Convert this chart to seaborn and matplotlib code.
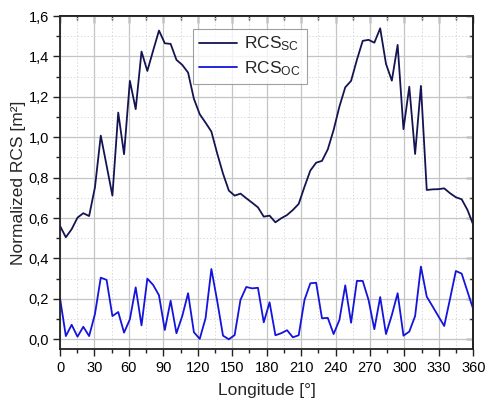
import numpy as np
import pandas as pd
import matplotlib
matplotlib.use("Agg")
import matplotlib.pyplot as plt
from matplotlib.ticker import MultipleLocator, FixedLocator
import seaborn as sns

# ---- data ----
longitude = np.linspace(0, 360, 72)
rcs_sc = [0.561, 0.505, 0.545, 0.602, 0.624, 0.610, 0.752, 1.008, 0.86, 0.711,
          1.122, 0.916, 1.279, 1.139, 1.424, 1.328, 1.429, 1.528, 1.465, 1.462,
          1.383, 1.358, 1.320, 1.190, 1.114, 1.072, 1.028, 0.92, 0.82, 0.736,
          0.711, 0.721, 0.698, 0.676, 0.653, 0.607, 0.612, 0.579, 0.599, 0.615,
          0.640, 0.670, 0.755, 0.835, 0.874, 0.883, 0.940, 1.036, 1.152, 1.247,
          1.279, 1.383, 1.477, 1.482, 1.468, 1.539, 1.363, 1.28, 1.457, 1.04,
          1.25, 0.917, 1.254, 0.739, 0.742, 0.743, 0.747, 0.723, 0.703, 0.693,
          0.64, 0.566]
rcs_oc = [0.203, 0.016, 0.072, 0.013, 0.062, 0.016, 0.125, 0.305, 0.294, 0.115,
          0.135, 0.033, 0.099, 0.257, 0.069, 0.300, 0.269, 0.218, 0.046, 0.191,
          0.030, 0.115, 0.228, 0.035, 0.002, 0.104, 0.348, 0.19, 0.018, 0.0,
          0.021, 0.195, 0.259, 0.252, 0.255, 0.084, 0.183, 0.020, 0.030, 0.045,
          0.010, 0.020, 0.195, 0.277, 0.280, 0.104, 0.106, 0.026, 0.096, 0.267,
          0.082, 0.289, 0.289, 0.195, 0.050, 0.209, 0.026, 0.12, 0.228, 0.018,
          0.038, 0.115, 0.36, 0.211, 0.163, 0.114, 0.066, 0.2, 0.338, 0.325,
          0.236, 0.148]
series_labels = [r"RCS$_{\mathrm{SC}}$", r"RCS$_{\mathrm{OC}}$"]
xticks = [0, 30, 60, 90, 120, 150, 180, 210, 240, 270, 300, 330, 360]
yticks = [0.0, 0.2, 0.4, 0.6, 0.8, 1.0, 1.2, 1.4, 1.6]
ytick_labels = ["0,0", "0,2", "0,4", "0,6", "0,8", "1,0", "1,2", "1,4", "1,6"]

df = pd.DataFrame({
    "Longitude": np.concatenate([longitude, longitude]),
    "RCS": rcs_sc + rcs_oc,
    "Series": [series_labels[0]] * len(rcs_sc) + [series_labels[1]] * len(rcs_oc),
})

sns.set_style("ticks")
plt.rcParams["font.family"] = ["Liberation Sans", "DejaVu Sans"]
plt.rcParams["mathtext.fontset"] = "custom"
plt.rcParams["mathtext.rm"] = "Liberation Sans"
plt.rcParams["mathtext.it"] = "Liberation Sans:italic"

fig = plt.figure(figsize=(4.86, 4.0), dpi=100)
ax = fig.add_axes([0.1235, 0.1265, 0.8504, 0.8335])

palette = {series_labels[0]: "#141452", series_labels[1]: "#1414dc"}
sns.lineplot(data=df, x="Longitude", y="RCS", hue="Series", palette=palette,
             linewidth=1.3, ax=ax, legend=True, sort=False)

ax.set_xlim(0, 360)
ax.set_ylim(-0.05, 1.6)
ax.xaxis.set_major_locator(FixedLocator(xticks))
ax.xaxis.set_minor_locator(MultipleLocator(15))
ax.set_yticks(yticks)
ax.set_yticklabels(ytick_labels)
ax.yaxis.set_minor_locator(MultipleLocator(0.1))

ax.grid(which="major", color="#c4c4c4", linewidth=0.9, linestyle="-")
ax.grid(which="minor", color="#dadada", linewidth=0.7, linestyle=(0, (1.5, 2)))
ax.set_axisbelow(True)

for s in ax.spines.values():
    s.set_linewidth(1.3)
    s.set_color("#222222")
    s.set_visible(True)

ax.tick_params(which="major", direction="out", length=5, width=1.0,
               labelsize=10.5, colors="#222222", labelcolor="black", pad=3)
ax.tick_params(which="minor", direction="out", length=3, width=1.0, colors="#222222")

# top and right inward ticks
secx = ax.secondary_xaxis("top")
secx.xaxis.set_major_locator(FixedLocator(xticks))
secx.xaxis.set_minor_locator(MultipleLocator(15))
secx.tick_params(which="major", direction="in", length=5, width=1.0, labeltop=False, colors="#222222")
secx.tick_params(which="minor", direction="in", length=3, width=1.0, colors="#222222")
secx.spines["top"].set_linewidth(1.3)
secy = ax.secondary_yaxis("right")
secy.yaxis.set_major_locator(FixedLocator(yticks))
secy.yaxis.set_minor_locator(MultipleLocator(0.1))
secy.tick_params(which="major", direction="in", length=5, width=1.0, labelright=False, colors="#222222")
secy.tick_params(which="minor", direction="in", length=3, width=1.0, colors="#222222")
secy.spines["right"].set_linewidth(1.3)

ax.set_xlabel("Longitude [°]", fontsize=12.5, labelpad=6)
ax.set_ylabel("Normalized RCS [m²]", fontsize=12.5, labelpad=2)

leg = ax.legend(loc="upper left", bbox_to_anchor=(0.322, 0.962), borderaxespad=0,
                fontsize=12.5, frameon=True, fancybox=False, edgecolor="#888888",
                handlelength=2.2, handletextpad=0.4, labelspacing=0.35,
                borderpad=0.35, title=None)
leg.get_frame().set_linewidth(0.8)
for line in leg.get_lines():
    line.set_linewidth(1.3)

fig.savefig("out.png", dpi=100)
